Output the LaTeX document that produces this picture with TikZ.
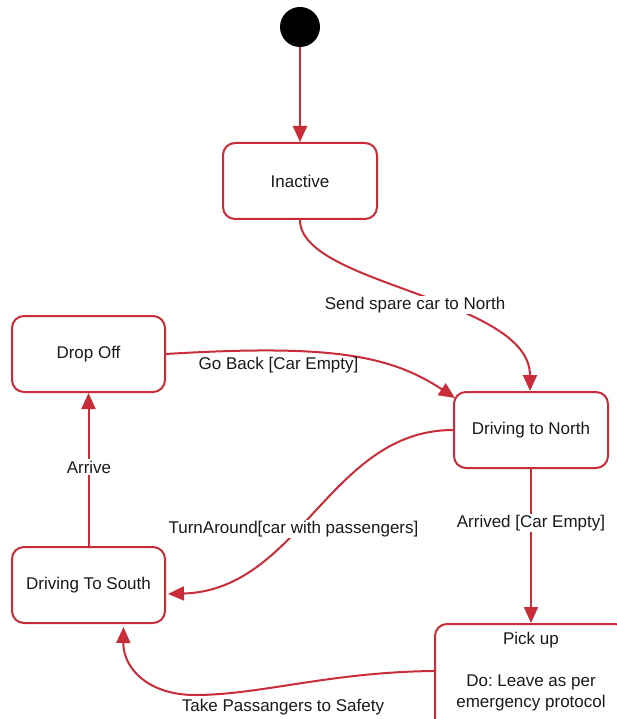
\documentclass[tikz,border=0pt]{standalone}
\usepackage{fontspec}
\setmainfont{Liberation Sans}
\usetikzlibrary{arrows.meta}
\definecolor{statered}{HTML}{C92D39}
\definecolor{inktext}{HTML}{1A1A1A}
\frenchspacing
\begin{document}
\begin{tikzpicture}[x=1pt,y=-1pt,
  every node/.style={font=\fontsize{17}{21}\selectfont, text=inktext},
  state/.style={draw=statered, line width=2pt, rounded corners=12pt, fill=white,
    minimum width=154pt, minimum height=76pt, inner sep=0pt},
  trans/.style={draw=statered, line width=2pt, -{Triangle[length=16pt,width=14pt]}},
  lbl/.style={fill=white, inner sep=1.5pt},
  plainlbl/.style={inner sep=1pt}]
\useasboundingbox (0,0) rectangle (617,719);

% initial pseudo-state
\node[circle, fill=black, minimum size=40pt, inner sep=0pt] (init) at (300,27) {};

% states
\node[state] (inactive) at (300,181) {Inactive};
\node[state, minimum width=153pt] (dropoff) at (88.5,354) {Drop Off};
\node[state] (dnorth) at (531,430) {Driving to North};
\node[state, minimum width=153pt] (dsouth) at (88.5,585) {Driving To South};
\begin{scope}
  \clip (0,0) rectangle (617,719);
  \node[state, minimum width=192pt, minimum height=116pt] (pickup) at (531,682) {};
\end{scope}
\node[align=center, inner sep=0pt] (pickuptext) at (531,671.5)
  {Pick up\\[21pt]Do: Leave as per\\emergency protocol};

% transitions
\draw[trans] (init) -- (inactive);
\draw[trans] (inactive.south) .. controls (300,285) and (530,298) .. ([xshift=-1pt]dnorth.north);
\draw[trans] (dropoff.east) .. controls (330,344) and (390,355) .. ([shift={(2,7)}]dnorth.north west);
\draw[trans] (dnorth.west) .. controls (330,430) and (300,590) .. ([shift={(2,9)}]dsouth.east);
\draw[trans] (dnorth) -- (pickup);
\draw[trans] ([yshift=-48pt]pickup.north west) .. controls (330,672) and (260,695) .. (195,695)
  .. controls (148,695) and (123,668) .. ([shift={(35,3)}]dsouth.south);
\draw[trans] (dsouth) -- (dropoff);

% transition labels
\node[lbl] (lsend) at (415,305) {Send spare car to North};
\node[plainlbl] (lback) at (278.5,365) {Go Back [Car Empty]};
\node[lbl] (lturn) at (293.5,529) {TurnAround[car with passengers]};
\node[lbl] (larrived) at (531,523) {Arrived [Car Empty]};
\node[lbl] (larrive) at (89,467) {Arrive};
\node[plainlbl] (ltake) at (283,707) {Take Passangers to Safety};
\end{tikzpicture}
\end{document}
